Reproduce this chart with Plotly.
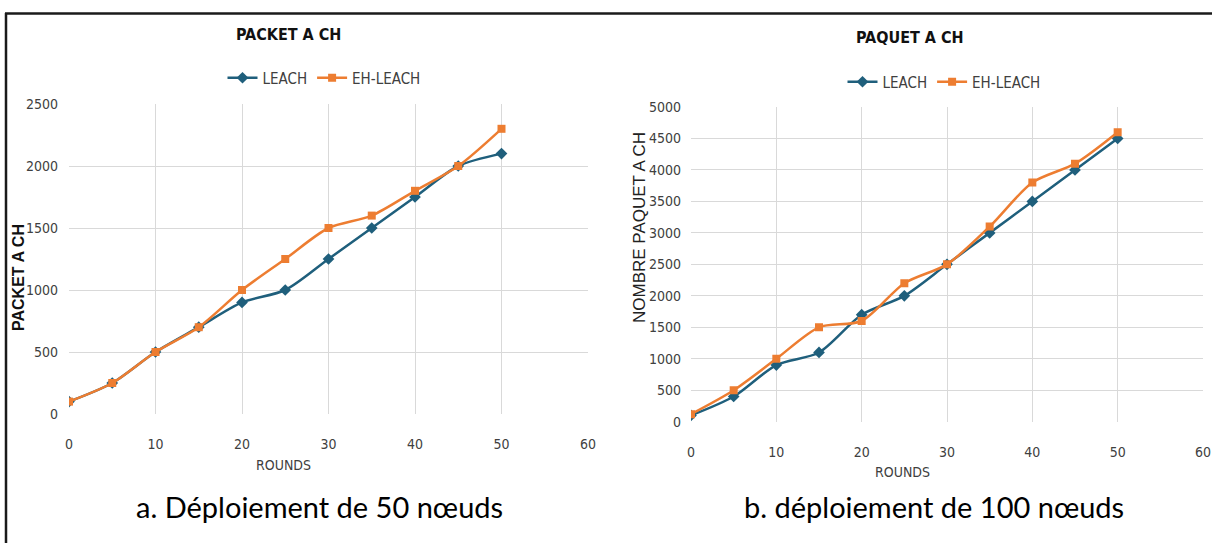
import plotly.graph_objects as go

W, H = 1212, 543

rounds = [0, 5, 10, 15, 20, 25, 30, 35, 40, 45, 50]
leach_50 = [100, 250, 500, 700, 900, 1000, 1250, 1500, 1750, 2000, 2100]
ehleach_50 = [100, 250, 500, 700, 1000, 1250, 1500, 1600, 1800, 2000, 2300]
leach_100 = [100, 400, 900, 1100, 1700, 2000, 2500, 3000, 3500, 4000, 4500]
ehleach_100 = [120, 500, 1000, 1500, 1600, 2200, 2500, 3100, 3800, 4100, 4600]

series_names = ["LEACH", "EH-LEACH"]
titles = ["PACKET A CH", "PAQUET A CH"]
ytitles = ["PACKET A CH", "NOMBRE PAQUET A CH"]
xtitle = "ROUNDS"
captions = ["a. Déploiement de 50 nœuds", "b. déploiement de 100 nœuds"]

C_LEACH = "#1F5F7C"
C_EH = "#ED7D31"
NARROW = "Liberation Sans Narrow, DejaVu Sans Condensed, Roboto Condensed, sans-serif"
TICKC = "#404040"


def px(x):
    return x / W


def py(y):
    return 1 - y / H


fig = go.Figure()

for i, (ld, ed) in enumerate([(leach_50, ehleach_50), (leach_100, ehleach_100)]):
    xa = "x" if i == 0 else "x2"
    ya = "y" if i == 0 else "y2"
    lg = "legend" if i == 0 else "legend2"
    fig.add_trace(go.Scatter(
        x=rounds, y=ld, name=series_names[0], mode="lines+markers",
        line=dict(color=C_LEACH, width=2.5, shape="spline", smoothing=0.8),
        marker=dict(symbol="diamond", size=9, color=C_LEACH),
        xaxis=xa, yaxis=ya, legend=lg))
    fig.add_trace(go.Scatter(
        x=rounds, y=ed, name=series_names[1], mode="lines+markers",
        line=dict(color=C_EH, width=2.5, shape="spline", smoothing=0.8),
        marker=dict(symbol="square", size=8, color=C_EH),
        xaxis=xa, yaxis=ya, legend=lg))

axis_common = dict(
    showgrid=True, gridcolor="#D9D9D9", gridwidth=1,
    zeroline=False, showline=False,
    tickfont=dict(family=NARROW, size=14, color=TICKC),
    ticks="", fixedrange=True,
)

fig.update_layout(
    width=W, height=H,
    margin=dict(l=0, r=0, t=0, b=0, autoexpand=False),
    paper_bgcolor="white", plot_bgcolor="white",
    xaxis=dict(domain=[px(69), px(588)], range=[0, 60], dtick=10, anchor="y",
               ticklabelstandoff=20, **axis_common),
    yaxis=dict(domain=[py(414), py(104)], range=[0, 2500], dtick=500, anchor="x",
               ticklabelstandoff=10, **axis_common),
    xaxis2=dict(domain=[px(691), px(1203)], range=[0, 60], dtick=10, anchor="y2",
                ticklabelstandoff=20, **axis_common),
    yaxis2=dict(domain=[py(421.7), py(107)], range=[0, 5000], dtick=500, anchor="x2",
                ticklabelstandoff=9, **axis_common),
    legend=dict(orientation="h", x=px(324), y=py(78), xanchor="center", yanchor="middle",
                font=dict(family=NARROW, size=15, color=TICKC), itemwidth=30,
                tracegroupgap=0, bgcolor="rgba(0,0,0,0)"),
    legend2=dict(orientation="h", x=px(944), y=py(82), xanchor="center", yanchor="middle",
                 font=dict(family=NARROW, size=15, color=TICKC), itemwidth=30,
                 tracegroupgap=0, bgcolor="rgba(0,0,0,0)"),
    showlegend=True,
)

ann = []
# chart titles
ann.append(dict(text="<b>" + titles[0] + "</b>", x=px(288), y=py(35)))
ann.append(dict(text="<b>" + titles[1] + "</b>", x=px(910), y=py(37)))
for a in ann:
    a.update(xref="paper", yref="paper", showarrow=False, xanchor="center", yanchor="middle",
             font=dict(family=NARROW, size=16, color="#111111"))

# x-axis titles
for xc, yc in [(283, 465), (902, 472)]:
    ann.append(dict(text=xtitle, x=px(xc), y=py(yc), xref="paper", yref="paper", showarrow=False,
                    xanchor="center", yanchor="middle",
                    font=dict(family=NARROW, size=14, color=TICKC)))

# y-axis titles
ann.append(dict(text="<b>" + ytitles[0] + "</b>", x=px(18), y=py(278), xref="paper", yref="paper",
                showarrow=False, textangle=-90, xanchor="center", yanchor="middle",
                font=dict(family="Liberation Sans, Arial, sans-serif", size=16, color="#111111")))
ann.append(dict(text=ytitles[1], x=px(639), y=py(228), xref="paper", yref="paper",
                showarrow=False, textangle=-90, xanchor="center", yanchor="middle",
                font=dict(family="Liberation Sans, Arial, sans-serif", size=17, color="#222222")))

# captions
for text, xc in zip(captions, [319, 934]):
    ann.append(dict(text=text, x=px(xc), y=py(507), xref="paper", yref="paper", showarrow=False,
                    xanchor="center", yanchor="middle",
                    font=dict(family="Lato, Open Sans, sans-serif", size=29, color="#000000")))

fig.update_layout(annotations=ann)

# outer frame (top and left edges visible)
fig.update_layout(shapes=[
    dict(type="line", xref="paper", yref="paper", x0=px(5), x1=1.0, y0=py(13.5), y1=py(13.5),
         line=dict(color="#1a1a1a", width=2.5)),
    dict(type="line", xref="paper", yref="paper", x0=px(6), x1=px(6), y0=py(13), y1=0,
         line=dict(color="#1a1a1a", width=2.5)),
])

fig.write_html(
    "out.html",
    post_script="document.body.style.margin='0';document.documentElement.style.overflow='hidden';",
)
